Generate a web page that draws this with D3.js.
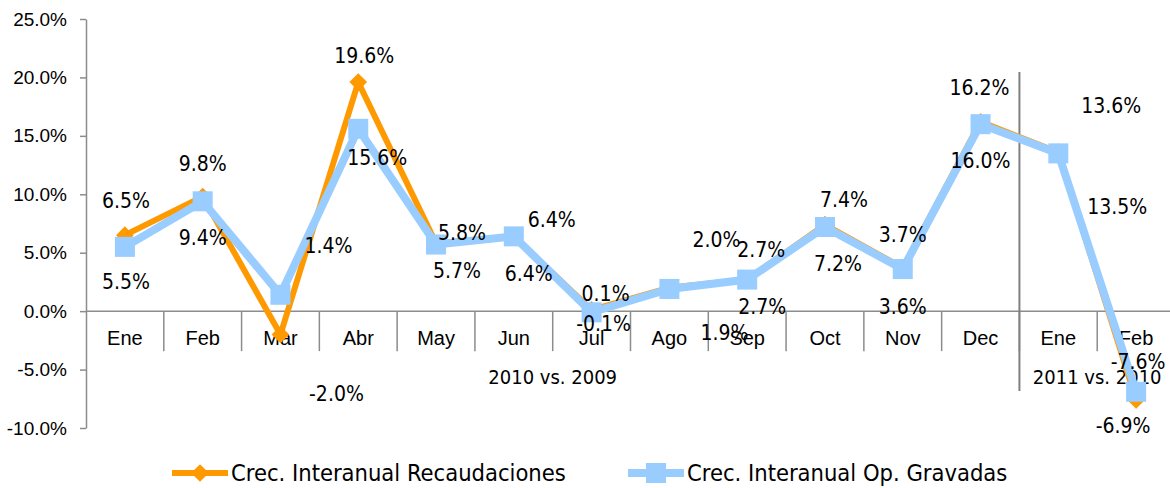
<!DOCTYPE html>
<html>
<head>
<meta charset="utf-8">
<script src="https://cdn.jsdelivr.net/npm/d3@7/dist/d3.min.js"></script>
<style>
  html, body { margin: 0; padding: 0; background: #fff; }
  svg { display: block; font-family: "DejaVu Sans Condensed", "DejaVu Sans", sans-serif; font-stretch: condensed; }
</style>
</head>
<body>
<svg id="chart" width="1170" height="488"></svg>
<script>
// Monthly year-on-year growth (%)
const months = ["Ene", "Feb", "Mar", "Abr", "May", "Jun", "Jul", "Ago", "Sep", "Oct", "Nov", "Dec", "Ene", "Feb"];
const periods = ["2010 vs. 2009", "2011 vs. 2010"];
const periodSizes = [12, 2];
const recaudaciones = [6.5, 9.8, -2.0, 19.6, 5.8, 6.4, 0.1, 2.0, 2.7, 7.4, 3.7, 16.2, 13.6, -7.6];
const gravadas = [5.5, 9.4, 1.4, 15.6, 5.7, 6.4, -0.1, 1.9, 2.7, 7.2, 3.6, 16.0, 13.5, -6.9];
const yTicks = [-10, -5, 0, 5, 10, 15, 20, 25];
const seriesNames = ["Crec. Interanual Recaudaciones", "Crec. Interanual Op. Gravadas"];

// Label nudges (px) relative to each point, per series
const nudgeRec = [[1,-35],[0,-33],[56,59],[6,-27],[26,-11],[38,-17],[14,-17],[47,-48],[14,-30],[19,-25],[0,-33],[-1,-34],[53,-47],[2,-39]];
const nudgeGrav = [[1,35],[0,36],[48,-49],[19,29],[21,26],[15,37],[12,11],[55,43],[15,27],[13,36],[0,37],[0,36],[59,53],[-13,34]];

const svg = d3.select("#chart");
const colors = { rec: "#FF9900", grav: "#99CCFF" };
const axisColor = "#8c8c8c";

const x = d3.scaleBand().domain(d3.range(months.length)).range([86, 1175]).paddingInner(0).paddingOuter(0);
const y = d3.scaleLinear().domain([-10, 25]).range([428, 19]);
const cx = i => x(i) + x.bandwidth() / 2;

// Y axis
const yAxis = svg.append("g").attr("transform", "translate(86,0)")
  .call(d3.axisLeft(y).tickValues(yTicks).tickFormat(d => d.toFixed(1) + "%").tickSize(6).tickSizeOuter(0).tickPadding(13));
yAxis.select(".domain").attr("stroke", axisColor).attr("stroke-width", 1.5);
yAxis.selectAll(".tick line").attr("stroke", axisColor).attr("stroke-width", 1.5);
yAxis.selectAll(".tick text").attr("font-size", 19).attr("fill", "#000").attr("font-family", null);

// X axis (category labels) on the zero line
const xAxis = svg.append("g").attr("transform", `translate(0,${y(0)})`)
  .call(d3.axisBottom(x).tickFormat(i => months[i]).tickSize(0).tickPadding(20));
xAxis.select(".domain").attr("d", `M86,0H1170`).attr("stroke", axisColor).attr("stroke-width", 1.5);
xAxis.selectAll(".tick text").attr("font-size", 20).attr("fill", "#000").attr("font-family", null);

// Category separators
const bounds = d3.range(1, months.length + 1).map(i => i < months.length ? x(i) : x(i - 1) + x.bandwidth());
svg.append("g").selectAll("line").data(bounds).join("line")
  .attr("x1", d => d).attr("x2", d => d)
  .attr("y1", y(0)).attr("y2", y(0) + 40)
  .attr("stroke", axisColor).attr("stroke-width", 1.5);

// Period separator and labels
let start = 0;
periods.forEach((p, k) => {
  const end = start + periodSizes[k];
  const x0 = x(start);
  const x1 = end < months.length ? x(end) : x(end - 1) + x.bandwidth();
  svg.append("text").attr("x", (x0 + x1) / 2).attr("y", 377).attr("dy", "0.35em")
    .attr("text-anchor", "middle").attr("font-size", 20).attr("fill", "#000").text(p);
  if (k > 0) {
    svg.append("line").attr("x1", x0).attr("x2", x0).attr("y1", 72).attr("y2", 391)
      .attr("stroke", "#808080").attr("stroke-width", 2);
  }
  start = end;
});

// Series lines and markers
const line = d3.line().x((d, i) => cx(i)).y(d => y(d));
const diamond = d3.symbol().type(d3.symbolDiamond2).size(200);

svg.append("path").datum(recaudaciones).attr("d", line)
  .attr("fill", "none").attr("stroke", colors.rec).attr("stroke-width", 6).attr("stroke-linejoin", "miter");
svg.append("g").selectAll("path").data(recaudaciones).join("path")
  .attr("d", diamond).attr("transform", (d, i) => `translate(${cx(i)},${y(d)})`).attr("fill", colors.rec);

svg.append("path").datum(gravadas).attr("d", line)
  .attr("fill", "none").attr("stroke", colors.grav).attr("stroke-width", 8).attr("stroke-linejoin", "miter");
svg.append("g").selectAll("rect").data(gravadas).join("rect")
  .attr("x", (d, i) => cx(i) - 10).attr("y", d => y(d) - 10)
  .attr("width", 20).attr("height", 20).attr("fill", colors.grav);

// Data labels
const fmt = v => v.toFixed(1) + "%";
function labels(values, nudges) {
  svg.append("g").selectAll("text").data(values).join("text")
    .attr("x", (d, i) => cx(i) + nudges[i][0])
    .attr("y", (d, i) => y(d) + nudges[i][1])
    .attr("dy", "0.36em").attr("text-anchor", "middle")
    .attr("font-size", 21).attr("fill", "#000").text(fmt);
}
labels(recaudaciones, nudgeRec);
labels(gravadas, nudgeGrav);

// Legend
const legend = svg.append("g");
const legendItems = [
  { name: seriesNames[0], color: colors.rec, x0: 172, marker: "diamond", w: 6 },
  { name: seriesNames[1], color: colors.grav, x0: 628, marker: "square", w: 8 }
];
const ly = 473;
legendItems.forEach(it => {
  legend.append("line").attr("x1", it.x0).attr("x2", it.x0 + 56).attr("y1", ly).attr("y2", ly)
    .attr("stroke", it.color).attr("stroke-width", it.w);
  if (it.marker === "diamond") {
    legend.append("path").attr("d", diamond).attr("transform", `translate(${it.x0 + 28},${ly})`).attr("fill", it.color);
  } else {
    legend.append("rect").attr("x", it.x0 + 18).attr("y", ly - 10).attr("width", 20).attr("height", 20).attr("fill", it.color);
  }
  legend.append("text").attr("x", it.x0 + 59).attr("y", ly).attr("dy", "0.36em")
    .attr("font-size", 23.5).attr("fill", "#000").text(it.name);
});
</script>
</body>
</html>
